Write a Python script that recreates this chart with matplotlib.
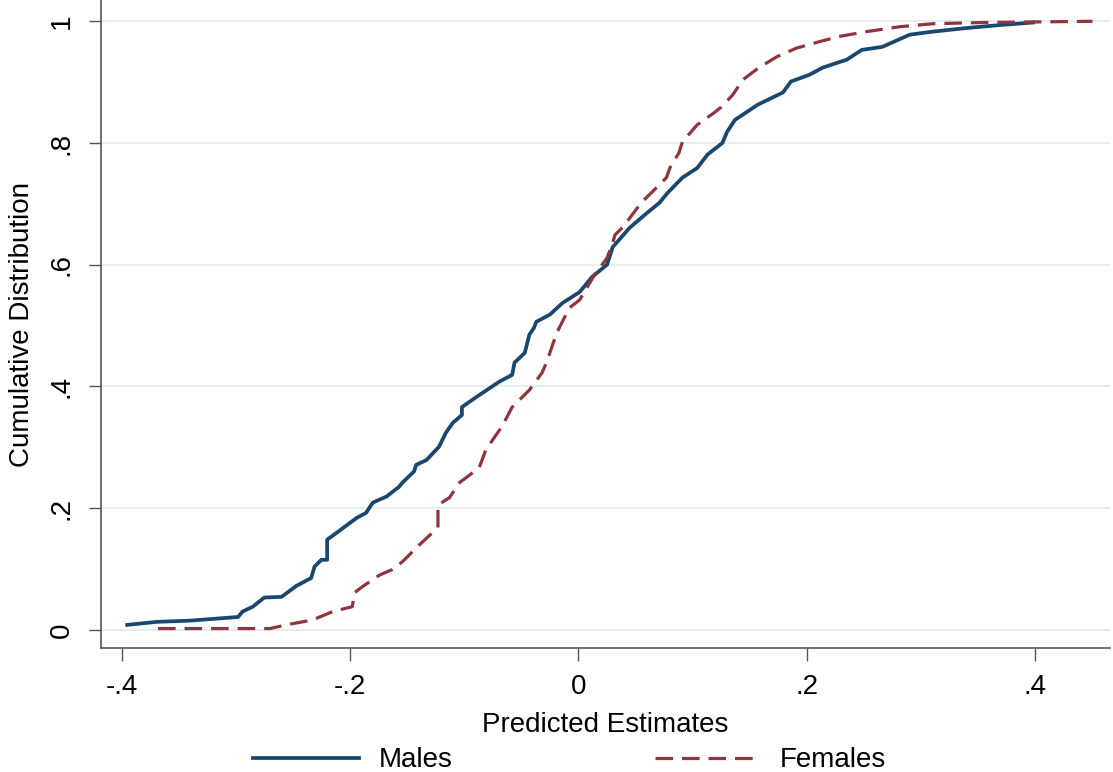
import matplotlib.pyplot as plt

males_x = [-0.395, -0.369, -0.340, -0.298, -0.294, -0.285, -0.275, -0.260, -0.247, -0.234,
           -0.231, -0.225, -0.220, -0.220, -0.212, -0.194, -0.186, -0.180, -0.168, -0.157,
           -0.154, -0.144, -0.142, -0.133, -0.122, -0.116, -0.110, -0.102, -0.102, -0.089,
           -0.069, -0.058, -0.056, -0.047, -0.043, -0.039, -0.037, -0.025, -0.014, 0.001,
           0.012, 0.025, 0.030, 0.045, 0.060, 0.071, 0.078, 0.091, 0.104, 0.113,
           0.126, 0.130, 0.137, 0.157, 0.179, 0.186, 0.202, 0.214, 0.235, 0.248,
           0.266, 0.290, 0.310, 0.340, 0.370, 0.398]
males_y = [0.008, 0.013, 0.015, 0.021, 0.030, 0.038, 0.053, 0.054, 0.072, 0.085,
           0.104, 0.115, 0.115, 0.148, 0.159, 0.184, 0.192, 0.209, 0.219, 0.235,
           0.242, 0.260, 0.271, 0.279, 0.301, 0.324, 0.340, 0.353, 0.366, 0.383,
           0.408, 0.419, 0.439, 0.455, 0.485, 0.496, 0.506, 0.518, 0.537, 0.555,
           0.580, 0.600, 0.629, 0.661, 0.685, 0.702, 0.718, 0.743, 0.759, 0.781,
           0.800, 0.818, 0.838, 0.863, 0.883, 0.901, 0.912, 0.924, 0.937, 0.953,
           0.958, 0.978, 0.983, 0.989, 0.994, 0.998]

females_x = [-0.368, -0.270, -0.256, -0.233, -0.215, -0.198, -0.196, -0.189, -0.174, -0.163,
             -0.154, -0.139, -0.123, -0.123, -0.113, -0.104, -0.087, -0.081, -0.067, -0.058,
             -0.043, -0.032, -0.028, -0.019, -0.008, 0.001, 0.014, 0.025, 0.030, 0.032,
             0.039, 0.055, 0.068, 0.077, 0.080, 0.088, 0.091, 0.104, 0.119, 0.125,
             0.135, 0.144, 0.158, 0.174, 0.191, 0.208, 0.228, 0.252, 0.281, 0.310,
             0.354, 0.450]
females_y = [0.002, 0.002, 0.008, 0.016, 0.030, 0.038, 0.061, 0.071, 0.090, 0.099,
             0.112, 0.140, 0.168, 0.205, 0.217, 0.242, 0.266, 0.296, 0.334, 0.366,
             0.394, 0.422, 0.439, 0.488, 0.529, 0.542, 0.583, 0.611, 0.636, 0.649,
             0.662, 0.702, 0.726, 0.743, 0.759, 0.784, 0.802, 0.830, 0.850, 0.859,
             0.879, 0.904, 0.924, 0.942, 0.956, 0.965, 0.975, 0.983, 0.991, 0.996,
             0.998, 1.000]

x_ticks = [-0.4, -0.2, 0, 0.2, 0.4]
x_labels = ['-.4', '-.2', '0', '.2', '.4']
y_ticks = [0, 0.2, 0.4, 0.6, 0.8, 1]
y_labels = ['0', '.2', '.4', '.6', '.8', '1']

plt.rcParams['font.family'] = ['Liberation Sans', 'DejaVu Sans']

fig = plt.figure(figsize=(11.13, 7.72), dpi=100)
ax = fig.add_axes([0.0907, 0.1606, 0.9063, 0.8394])

for yv in y_ticks:
	ax.axhline(yv, color='#e3ecf0', lw=1.3, zorder=0)

ax.plot(males_x, males_y, color='#1a476f', lw=2.7, label='Males')
ax.plot(females_x, females_y, color='#90353b', lw=2.3, dashes=(5.5, 2.8), label='Females')

ax.set_xlim(-0.418, 0.465)
ax.set_ylim(-0.03, 1.035)
ax.set_xticks(x_ticks)
ax.set_xticklabels(x_labels)
ax.set_yticks(y_ticks)
ax.set_yticklabels(y_labels, rotation=90, va='center')
ax.tick_params(axis='both', labelsize=20, length=9, width=1, color='#555555', pad=10)

for s in ['top', 'right']:
	ax.spines[s].set_visible(False)
for s in ['left', 'bottom']:
	ax.spines[s].set_color('#555555')
	ax.spines[s].set_linewidth(1.2)

ax.set_xlabel('Predicted Estimates', fontsize=20, labelpad=8)
ax.set_ylabel('Cumulative Distribution', fontsize=20, labelpad=10)

fig.legend(loc='lower center', bbox_to_anchor=(0.512, -0.034), ncol=2, frameon=False,
           fontsize=20, handlelength=3.8, handletextpad=0.7, columnspacing=7.3)

fig.savefig('out.png', dpi=100)
